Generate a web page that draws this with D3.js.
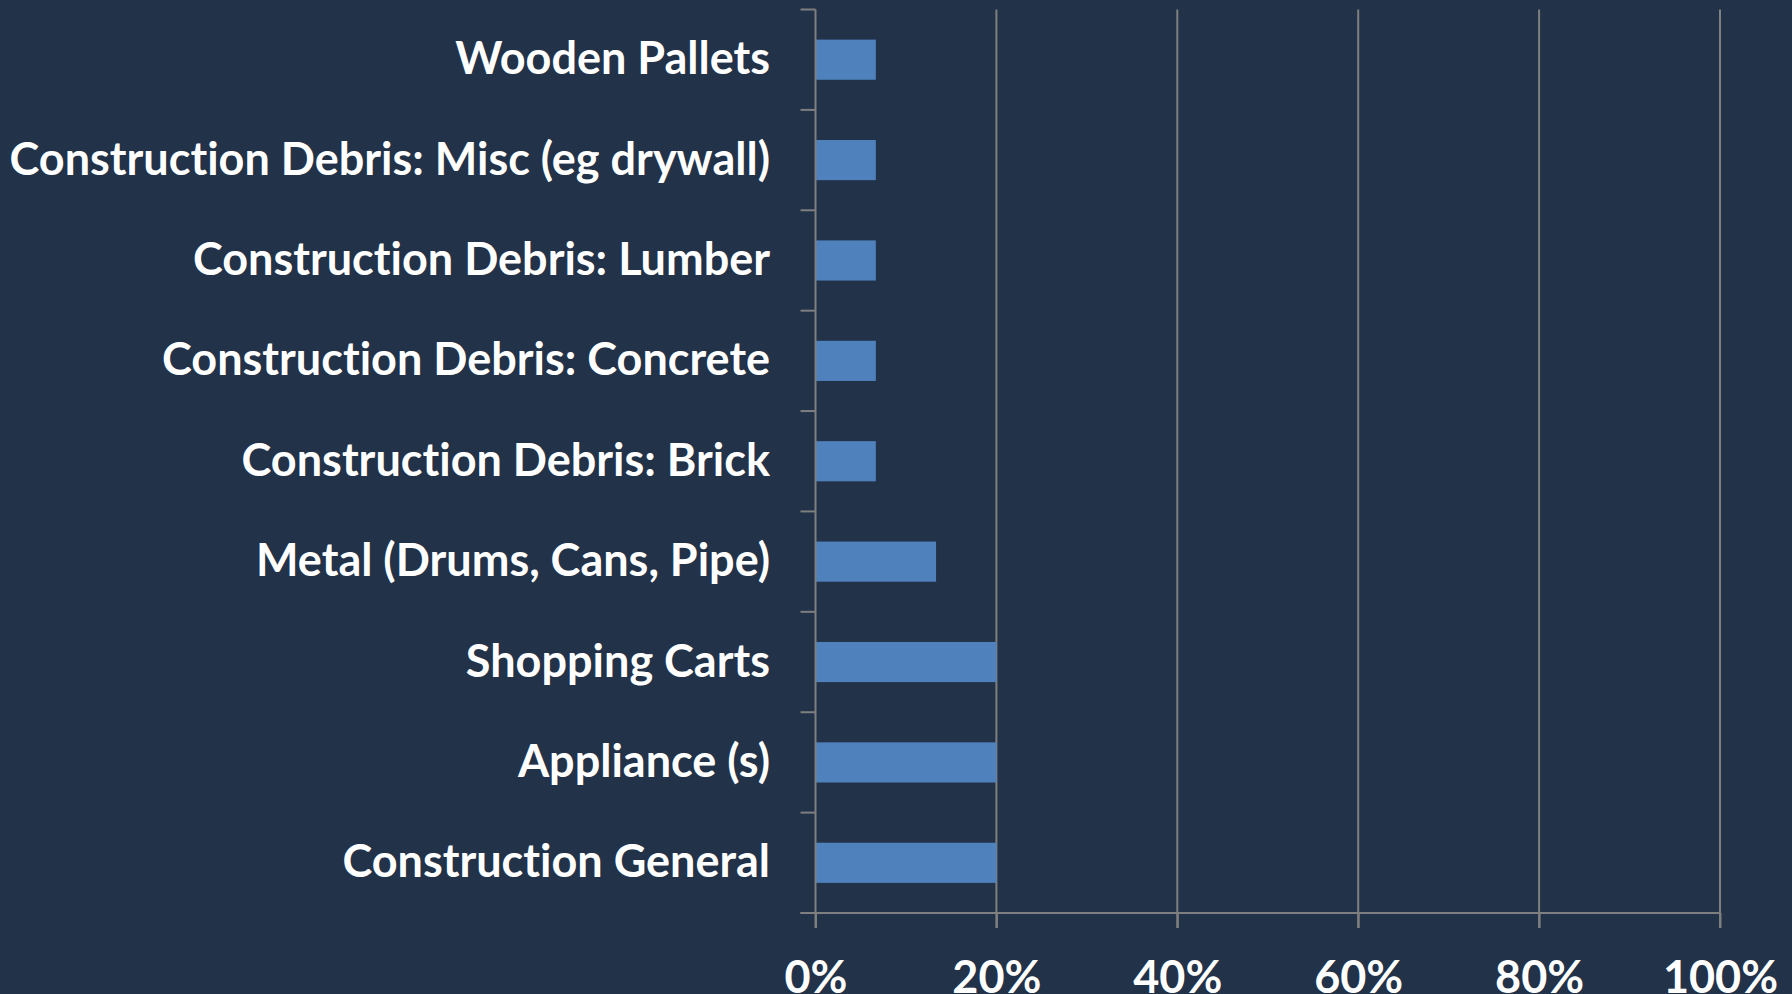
<!DOCTYPE html>
<html>
<head>
<meta charset="utf-8">
<script src="https://cdn.jsdelivr.net/npm/d3@7"></script>
<style>
  html, body { margin: 0; padding: 0; background: #223248; }
  svg { display: block; }
  text { font-family: Lato, "Open Sans", sans-serif; font-weight: bold; fill: #ffffff; font-variant-ligatures: none; }
</style>
</head>
<body>
<svg id="chart"></svg>
<script>
var categories = [
  "Wooden Pallets",
  "Construction Debris: Misc (eg drywall)",
  "Construction Debris: Lumber",
  "Construction Debris: Concrete",
  "Construction Debris: Brick",
  "Metal (Drums, Cans, Pipe)",
  "Shopping Carts",
  "Appliance (s)",
  "Construction General"
];
var values = [0.0667, 0.0667, 0.0667, 0.0667, 0.0667, 0.1333, 0.20, 0.20, 0.20];
var xTicks = [0, 0.2, 0.4, 0.6, 0.8, 1.0];

var width = 1792;
var height = 994;
var margin = { top: 9.5, right: 72, bottom: 81, left: 815.5 };

var chartWidth = width - margin.left - margin.right;
var chartHeight = height - margin.top - margin.bottom;

var fontSize = 45;

var svg = d3.select("#chart")
  .attr("width", width)
  .attr("height", height);

var x = d3.scaleLinear()
  .domain([0, 1])
  .range([margin.left, margin.left + chartWidth]);

var y = d3.scaleBand()
  .domain(categories)
  .range([margin.top, margin.top + chartHeight])
  .paddingInner(0.6)
  .paddingOuter(0.3);

// boundaries between categories, for the tick marks on the left axis
var yEdge = d3.scaleLinear()
  .domain([0, categories.length])
  .range([margin.top, margin.top + chartHeight]);

var lineColor = "#7f7f7f";

// vertical gridlines
svg.append("g")
  .selectAll("line")
  .data(xTicks.slice(1))
  .enter().append("line")
  .attr("x1", function(d) { return x(d); })
  .attr("x2", function(d) { return x(d); })
  .attr("y1", margin.top)
  .attr("y2", margin.top + chartHeight + 15)
  .attr("stroke", lineColor)
  .attr("stroke-width", 2);

// bars
svg.append("g")
  .selectAll("rect")
  .data(values)
  .enter().append("rect")
  .attr("x", x(0))
  .attr("y", function(d, i) { return y(categories[i]); })
  .attr("width", function(d) { return x(d) - x(0); })
  .attr("height", y.bandwidth())
  .attr("fill", "#4f81bd");

// x axis
var xAxis = d3.axisBottom(x)
  .tickValues(xTicks)
  .tickSize(15)
  .tickPadding(33)
  .tickFormat(d3.format(".0%"));

var gx = svg.append("g")
  .attr("transform", "translate(0," + (margin.top + chartHeight) + ")")
  .call(xAxis);
gx.attr("font-family", null).attr("font-size", null);
gx.select(".domain").remove();
gx.selectAll(".tick line").attr("stroke", lineColor).attr("stroke-width", 2);
gx.selectAll(".tick text")
  .attr("font-size", fontSize)
  .attr("fill", "#ffffff");

svg.append("line")
  .attr("x1", margin.left - 15)
  .attr("x2", x(1))
  .attr("y1", margin.top + chartHeight)
  .attr("y2", margin.top + chartHeight)
  .attr("stroke", lineColor)
  .attr("stroke-width", 2);

// y axis line and category ticks
svg.append("line")
  .attr("x1", margin.left)
  .attr("x2", margin.left)
  .attr("y1", margin.top)
  .attr("y2", margin.top + chartHeight + 15)
  .attr("stroke", lineColor)
  .attr("stroke-width", 2);

svg.append("g")
  .selectAll("line")
  .data(d3.range(categories.length + 1))
  .enter().append("line")
  .attr("x1", margin.left - 15)
  .attr("x2", margin.left)
  .attr("y1", function(d) { return yEdge(d); })
  .attr("y2", function(d) { return yEdge(d); })
  .attr("stroke", lineColor)
  .attr("stroke-width", 2);

// category labels
svg.append("g")
  .selectAll("text")
  .data(categories)
  .enter().append("text")
  .attr("x", margin.left - 45.5)
  .attr("y", function(d) { return y(d) + y.bandwidth() / 2 + 14.5; })
  .attr("text-anchor", "end")
  .attr("font-size", fontSize)
  .text(function(d) { return d; });
</script>
</body>
</html>
